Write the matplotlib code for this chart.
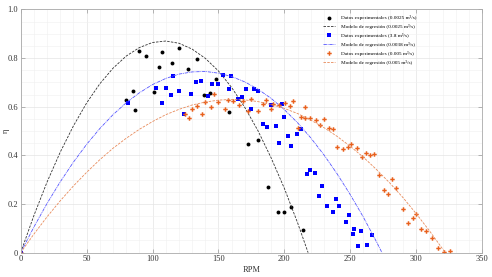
import matplotlib
matplotlib.use("Agg")
import matplotlib.pyplot as plt
from matplotlib.ticker import MultipleLocator, FuncFormatter

plt.rcParams["font.family"] = ["Liberation Serif", "DejaVu Serif"]

# experimental data, Q = 0.0025 m3/s
rpm_a = [0, 79.9, 85.0, 86.9, 89.8, 94.9, 100.8, 104.9, 107.0, 114.8, 119.8, 127.1,
         133.7, 139.0, 143.9, 148.1, 158.1, 172.1, 179.9, 187.9, 195.1, 199.8,
         204.9, 213.8]
eff_a = [0, 0.626, 0.666, 0.586, 0.831, 0.809, 0.661, 0.763, 0.826, 0.778, 0.842, 0.753,
         0.796, 0.647, 0.656, 0.714, 0.577, 0.445, 0.462, 0.269, 0.167, 0.167,
         0.187, 0.095]

# experimental data, Q = 0.0038 m3/s
rpm_b = [0, 81.2, 102.7, 107.0, 110.0, 114.0, 115.8, 119.8, 123.6, 129.0, 133.0, 136.7,
         142.0, 144.8, 149.9, 153.6, 159.7, 158.0, 164.8, 168.0, 170.8, 174.6, 176.9,
         180.2, 184.0, 187.0, 189.8, 193.8, 195.8, 198.1, 199.8, 202.9, 205.2, 209.7,
         212.7, 216.8, 219.5, 222.9, 225.9, 228.6, 232.7, 236.9, 238.8, 241.5, 246.8,
         248.9, 251.9, 252.9, 255.9, 258.0, 263.0, 266.8]
eff_b = [0, 0.616, 0.675, 0.615, 0.678, 0.649, 0.725, 0.664, 0.569, 0.651, 0.700, 0.706,
         0.645, 0.692, 0.694, 0.730, 0.726, 0.674, 0.630, 0.638, 0.673, 0.589, 0.671,
         0.663, 0.530, 0.515, 0.606, 0.521, 0.451, 0.610, 0.559, 0.479, 0.438, 0.488,
         0.507, 0.322, 0.339, 0.326, 0.233, 0.275, 0.191, 0.166, 0.219, 0.193, 0.126,
         0.155, 0.077, 0.097, 0.026, 0.088, 0.032, 0.071]

# experimental data, Q = 0.005 m3/s
rpm_c = [0, 124.8, 127.9, 129.9, 133.5, 137.7, 139.9, 144.0, 147.0, 149.9, 155.2, 157.2,
         161.2, 165.5, 168.3, 172.1, 174.6, 179.9, 183.7, 186.0, 189.8, 191.3, 196.0,
         200.6, 204.4, 206.8, 210.0, 212.7, 215.8, 216.0, 219.8, 223.9, 226.9, 229.9,
         233.9, 236.5, 239.9, 244.8, 247.9, 250.9, 254.7, 258.9, 262.0, 265.0, 268.0,
         271.8, 275.9, 278.9, 282.0, 285.0, 289.9, 293.6, 297.6, 299.8, 303.6, 307.7,
         311.7, 316.8, 320.8, 325.6]
eff_c = [0, 0.571, 0.553, 0.592, 0.603, 0.569, 0.620, 0.599, 0.654, 0.619, 0.590, 0.626,
         0.622, 0.605, 0.623, 0.583, 0.630, 0.583, 0.611, 0.626, 0.590, 0.611, 0.608,
         0.615, 0.604, 0.622, 0.511, 0.559, 0.597, 0.552, 0.553, 0.545, 0.525, 0.551,
         0.512, 0.509, 0.433, 0.427, 0.434, 0.445, 0.429, 0.393, 0.411, 0.401, 0.404,
         0.318, 0.256, 0.241, 0.304, 0.265, 0.181, 0.121, 0.141, 0.158, 0.097, 0.090,
         0.062, 0.018, 0.002, 0.008]

# regression model curves
fit_rpm_a = [0, 10, 20, 30, 40, 50, 60, 70, 80, 90, 100, 110, 120, 130, 140, 150, 160,
             170, 180, 190, 200, 210, 218]
fit_eff_a = [0, 0.152, 0.290, 0.413, 0.521, 0.615, 0.694, 0.758, 0.808, 0.843, 0.864,
             0.870, 0.861, 0.837, 0.799, 0.747, 0.679, 0.597, 0.501, 0.389, 0.264, 0.123, 0]

fit_rpm_b = [0, 10, 20, 30, 40, 50, 60, 70, 80, 90, 100, 110, 120, 130, 140, 150, 160,
             170, 180, 190, 200, 210, 220, 230, 240, 250, 260, 270, 274]
fit_eff_b = [0, 0.105, 0.202, 0.291, 0.372, 0.445, 0.510, 0.567, 0.616, 0.657, 0.691,
             0.716, 0.734, 0.743, 0.745, 0.738, 0.724, 0.702, 0.672, 0.634, 0.588, 0.534,
             0.472, 0.402, 0.324, 0.238, 0.145, 0.043, 0]

fit_rpm_c = [0, 10, 20, 30, 40, 50, 60, 70, 80, 90, 100, 110, 120, 130, 140, 150, 160,
             170, 180, 190, 200, 210, 220, 230, 240, 250, 260, 270, 280, 290, 300, 310, 322]
fit_eff_c = [0, 0.076, 0.147, 0.213, 0.274, 0.330, 0.382, 0.429, 0.470, 0.507, 0.539,
             0.567, 0.589, 0.607, 0.619, 0.627, 0.630, 0.628, 0.621, 0.609, 0.593, 0.572,
             0.545, 0.514, 0.478, 0.437, 0.392, 0.341, 0.286, 0.226, 0.160, 0.090, 0]

orange = "#e8601c"

fig = plt.figure(figsize=(4.92, 2.77), dpi=100)
ax = fig.add_axes([0.042, 0.088, 0.938, 0.878])

ax.plot(rpm_a, eff_a, "o", color="black", ms=2.8, mew=0, lw=0,
        label="Datos experimentales (0.0025 m³/s)")
ax.plot(fit_rpm_a, fit_eff_a, color="#333333", lw=0.6, ls=(0, (3, 1.5)),
        label="Modelo de regresión (0.0025 m³/s)")
ax.plot(rpm_b, eff_b, "s", color="#0000ff", ms=2.6, mew=0, lw=0,
        label="Datos experimentales (3.8 m³/s)")
ax.plot(fit_rpm_b, fit_eff_b, color="#5555ff", lw=0.6, ls=(0, (4, 1, 1, 1)),
        label="Modelo de regresión (0.0038 m³/s)")
ax.plot(rpm_c, eff_c, "P", color=orange, ms=3.2, mew=0, lw=0,
        label="Datos experimentales (0.005 m³/s)")
ax.plot(fit_rpm_c, fit_eff_c, color="#e88a5a", lw=0.6, ls=(0, (3, 1.5)),
        label="Modelo de regresión (0.005 m³/s)")

ax.set_xlim(0, 350)
ax.set_ylim(0, 1)
ax.xaxis.set_major_locator(MultipleLocator(50))
ax.yaxis.set_major_locator(MultipleLocator(0.2))
ax.xaxis.set_minor_locator(MultipleLocator(10))
ax.yaxis.set_minor_locator(MultipleLocator(0.05))
ax.yaxis.set_major_formatter(FuncFormatter(lambda v, p: "0" if abs(v) < 1e-9 else f"{v:.1f}"))
ax.xaxis.set_major_formatter(FuncFormatter(lambda v, p: f"{v:.0f}"))

ax.grid(which="major", color="#e4e4e4", lw=0.5)
ax.grid(which="minor", color="#f0f0f0", lw=0.4)
ax.set_axisbelow(True)
ax.tick_params(which="major", direction="in", length=3, width=0.5, color="#999999",
               labelsize=6, top=True, right=True, pad=2, labelcolor="#333333")
ax.tick_params(which="minor", length=0)
for s in ax.spines.values():
    s.set_color("#aaaaaa")
    s.set_linewidth(0.6)

ax.set_xlabel("RPM", fontsize=6, labelpad=2, color="#333333")
ax.set_ylabel("η", fontsize=6, color="#333333", va="center")
ax.yaxis.set_label_coords(-0.033, 0.5)

ax.legend(loc="upper left", bbox_to_anchor=(0.645, 0.995), fontsize=3.8, frameon=False,
          handlelength=2.2, handletextpad=1.2, labelspacing=0.75)

fig.savefig("out.png", dpi=100)
